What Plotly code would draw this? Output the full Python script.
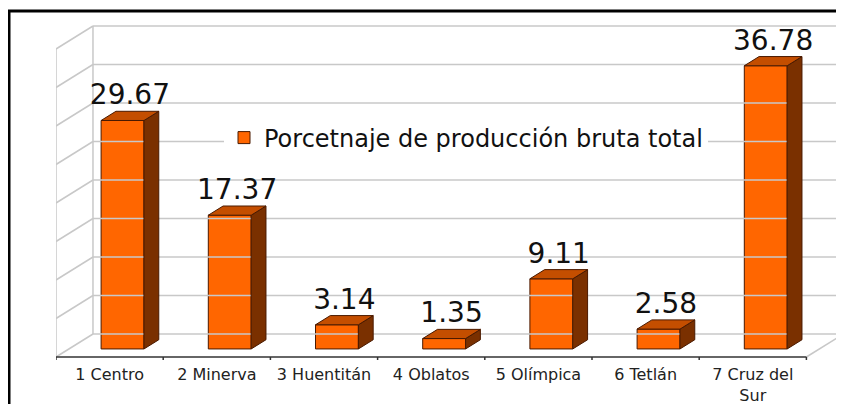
import plotly.graph_objects as go

# ---------------- data ----------------
categories = ["1 Centro", "2 Minerva", "3 Huentitán", "4 Oblatos",
              "5 Olímpica", "6 Tetlán", "7 Cruz del<br>Sur"]
values = [29.67, 17.37, 3.14, 1.35, 9.11, 2.58, 36.78]
value_labels = ["29.67", "17.37", "3.14", "1.35", "9.11", "2.58", "36.78"]
grid_values = [0, 5, 10, 15, 20, 25, 30, 35, 40]
series_name = "Porcetnaje de producción bruta total"

# ---------------- 3D projection settings (data units) ----------------
DX = 0.345   # depth shift in x (category units) for full depth
DY = 2.987   # depth shift in y (value units) for full depth
DF = 0.35    # depth of bar front face
DB = 0.40    # bar depth
BW = 0.40    # bar width

W, H = 844, 404
OFF = 8      # page body margin
ML, MR, MT, MB = 56 - OFF, 1, 20 - OFF, H - (360 - OFF)
PX_PER_CAT = 107.2
PX_PER_VAL = 7.7
FLOOR_PX = 357 - OFF

n = len(categories)
x_min = -0.5
x_max = x_min + (W - ML - MR) / PX_PER_CAT
y_min = (FLOOR_PX - (H - MB)) / PX_PER_VAL
y_max = (FLOOR_PX - MT) / PX_PER_VAL
vmax = grid_values[-1]


def proj(x, v, d):
    return x + d * DX, v + d * DY


FONT = "DejaVu Sans"
fig = go.Figure()

# ---------------- walls / gridlines ----------------
gx, gy = [], []
for g in grid_values:
    a = proj(x_min, g, 1)
    gx += [a[0], x_max, None]
    gy += [a[1], a[1], None]
    b = proj(x_min, g, 0)
    gx += [b[0], a[0], None]
    gy += [b[1], a[1], None]
for d in (0, 1):
    p0 = proj(x_min, 0, d)
    p1 = proj(x_min, vmax, d)
    gx += [p0[0], p1[0], None]
    gy += [p0[1], p1[1], None]
r0 = proj(n - 0.5, 0, 0)
r1 = proj(n - 0.5, 0, 1)
gx += [r0[0], r1[0], None]
gy += [r0[1], r1[1], None]
fig.add_trace(go.Scatter(x=gx, y=gy, mode="lines",
                         line=dict(color="#c8c8c8", width=1.5),
                         hoverinfo="skip", showlegend=False))

# axis (front floor edge) and tick marks
ax_x = [x_min, n - 0.5, None]
ax_y = [0, 0, None]
for k in range(n + 1):
    ax_x += [k - 0.5, k - 0.5, None]
    ax_y += [0, y_min, None]
fig.add_trace(go.Scatter(x=ax_x, y=ax_y, mode="lines",
                         line=dict(color="#333333", width=1.5),
                         hoverinfo="skip", showlegend=False))

# ---------------- bars ----------------
edge = "#4a1a00"
fig.add_trace(go.Bar(
    x=[i + DF * DX for i in range(n)], y=values,
    base=[DF * DY] * n, width=BW,
    marker=dict(color="#ff6600", line=dict(color=edge, width=1)),
    name=series_name, showlegend=True))

tx, ty, sx, sy = [], [], [], []
for i, v in enumerate(values):
    xl, xr = i - BW / 2, i + BW / 2
    pts = [proj(xl, v, DF), proj(xr, v, DF), proj(xr, v, DF + DB), proj(xl, v, DF + DB)]
    tx += [p[0] for p in pts] + [pts[0][0], None]
    ty += [p[1] for p in pts] + [pts[0][1], None]
    pts = [proj(xr, 0, DF), proj(xr, v, DF), proj(xr, v, DF + DB), proj(xr, 0, DF + DB)]
    sx += [p[0] for p in pts] + [pts[0][0], None]
    sy += [p[1] for p in pts] + [pts[0][1], None]

fig.add_trace(go.Scatter(x=sx, y=sy, mode="lines", fill="toself",
                         fillcolor="#7a3000", line=dict(color=edge, width=1),
                         hoverinfo="skip", showlegend=False))
fig.add_trace(go.Scatter(x=tx, y=ty, mode="lines", fill="toself",
                         fillcolor="#c44e00", line=dict(color=edge, width=1),
                         hoverinfo="skip", showlegend=False))

# value labels
fig.add_trace(go.Scatter(
    x=[i + (DF + DB / 2) * DX for i in range(n)],
    y=[v + (DF + DB) * DY for v in values],
    mode="text", text=value_labels, textposition="top center",
    textfont=dict(family=FONT, size=28, color="#111111"),
    cliponaxis=False, hoverinfo="skip", showlegend=False))

# ---------------- frame ----------------
pw = W - ML - MR
ph = H - MT - MB
fig.add_shape(type="rect", xref="paper", yref="paper",
              x0=(9 - OFF - ML) / pw, x1=1.1, y0=-0.3,
              y1=((H - MB) - (11 - OFF)) / ph,
              line=dict(color="black", width=3), fillcolor="rgba(0,0,0,0)")

fig.update_layout(
    width=W, height=H,
    margin=dict(l=ML, r=MR, t=MT, b=MB, pad=0),
    paper_bgcolor="white", plot_bgcolor="white",
    xaxis=dict(range=[x_min, x_max], showgrid=False, zeroline=False,
               showline=False, ticks="", tickmode="array",
               tickvals=list(range(n)), ticktext=categories,
               ticklabelstandoff=3,
               tickfont=dict(family=FONT, size=16, color="#222222")),
    yaxis=dict(range=[y_min, y_max], visible=False),
    legend=dict(x=(224 - OFF - ML) / pw, y=((H - MB) - (138 - OFF)) / ph,
                xanchor="left", yanchor="middle",
                bgcolor="white", borderwidth=0,
                font=dict(family=FONT, size=24, color="#111111")),
    showlegend=True,
)

fig.write_html("out.html")
